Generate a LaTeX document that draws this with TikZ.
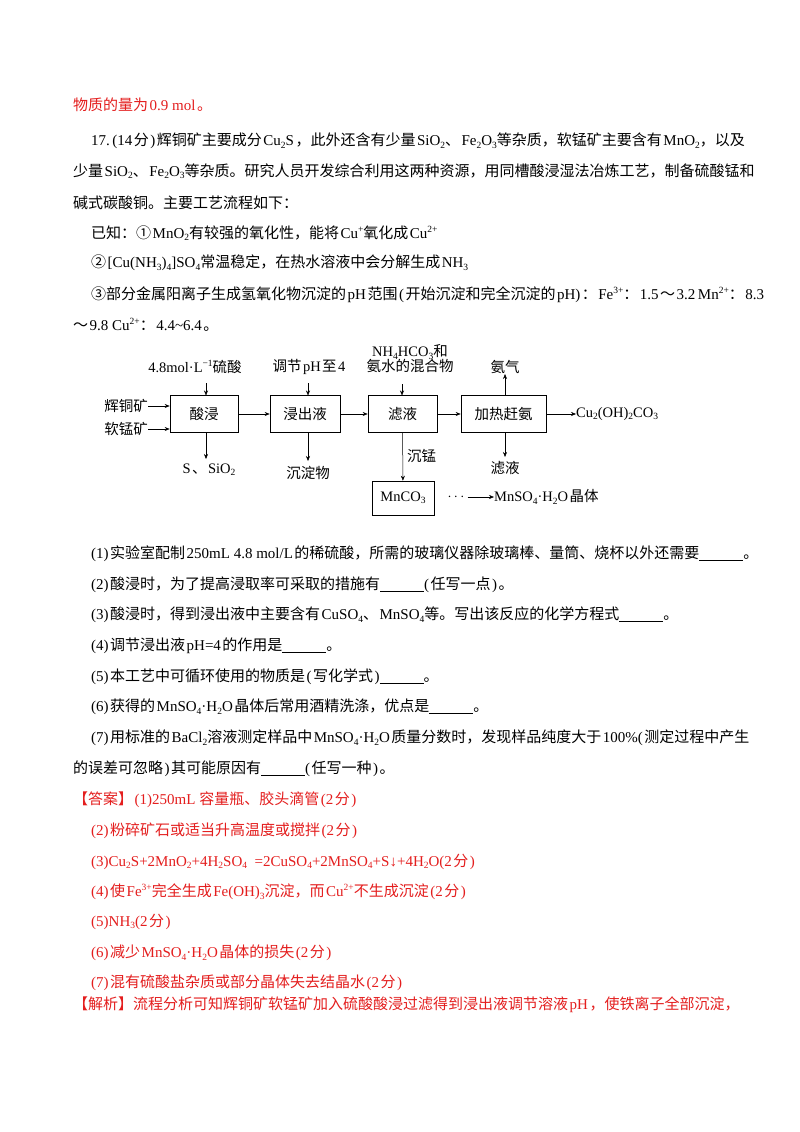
\documentclass[tikz,border=0pt]{standalone}
\usepackage{fontspec}
\usetikzlibrary{arrows.meta}
\setmainfont{Liberation Serif}
\newfontfamily\cjkfont{Noto Sans CJK SC}
\newcommand\latinfont{\rmfamily}
\XeTeXinterchartokenstate=1
\XeTeXlinebreaklocale "zh"
\XeTeXlinebreakskip=0pt plus 1fil
\newXeTeXintercharclass\cjkcls
\newcount\mycnt
\def\setcls#1#2{\mycnt=#1 \loop\XeTeXcharclass\mycnt=\cjkcls\advance\mycnt1 \ifnum\mycnt<#2\repeat}
\setcls{"2460}{"2474}\setcls{"3000}{"3040}\setcls{"4E00}{"A000}\setcls{"FF00}{"FFF0}
\XeTeXinterchartoks 0 \cjkcls={\hskip1.5pt\cjkfont}
\XeTeXinterchartoks 4095 \cjkcls={\cjkfont}
\XeTeXinterchartoks \cjkcls 0={\hskip1.5pt\latinfont}
\XeTeXinterchartoks 4095 0={\latinfont}
\newcommand\xs[1]{\raisebox{-0.35ex}{\fontsize{9.5}{9.5}\selectfont #1}}
\newcommand\xp[1]{\raisebox{0.85ex}{\fontsize{9.5}{9.5}\selectfont #1}}
\newcommand\blank{\underline{\hspace{44pt}}}
\newcommand\full[1]{\hbox to 637pt{#1}}
\newcommand\fullb[1]{\hbox to 655pt{#1}}
\definecolor{ans}{RGB}{228,30,30}
\begin{document}
\begin{tikzpicture}[x=1pt,y=-1pt,
  txt/.style={anchor=west,inner sep=0pt,font=\fontsize{15}{17}\selectfont},
  dtx/.style={inner sep=0pt,font=\fontsize{14.5}{16}\selectfont},
  box/.style={draw,line width=0.6pt,inner sep=0pt,font=\fontsize{14.5}{16}\selectfont},
  arr/.style={-{Stealth[length=5pt,width=4pt]},line width=0.5pt}]
\useasboundingbox[fill=white] (0,0) rectangle (800,1132);
% text
\node[txt,text=ans] (l0) at (73,105) {物质的量为0.9 mol。};
\node[txt] (l1) at (91,141) {\full{17.~(14分)辉铜矿主要成分Cu\xs{2}S，此外还含有少量SiO\xs{2}、Fe\xs{2}O\xs{3}等杂质，软锰矿主要含有MnO\xs{2}，以及}};
\node[txt] (l2) at (73,171) {\fullb{少量SiO\xs{2}、Fe\xs{2}O\xs{3}等杂质。研究人员开发综合利用这两种资源，用同槽酸浸湿法冶炼工艺，制备硫酸锰和}};
\node[txt] (l3) at (73,203) {碱式碳酸铜。主要工艺流程如下：};
\node[txt] (l4) at (91,233) {已知：①MnO\xs{2}有较强的氧化性，能将Cu\xp{+}氧化成Cu\xp{2+}};
\node[txt] (l5) at (91,263) {②[Cu(NH\xs{3})\xs{4}]SO\xs{4}常温稳定，在热水溶液中会分解生成NH\xs{3}};
\node[txt] (l6) at (91,295) {\full{③部分金属阳离子生成氢氧化物沉淀的pH范围(开始沉淀和完全沉淀的pH)：Fe\xp{3+}：1.5～3.2~Mn\xp{2+}：8.3}};
\node[txt] (l7) at (73,325) {～9.8 Cu\xp{2+}：4.4\textasciitilde6.4。};
\node[txt] (q1) at (91,554) {(1)实验室配制250mL 4.8 mol/L的稀硫酸，所需的玻璃仪器除玻璃棒、量筒、烧杯以外还需要\blank。};
\node[txt] (q2) at (91,585) {(2)酸浸时，为了提高浸取率可采取的措施有\blank(任写一点)。};
\node[txt] (q3) at (91,615) {(3)酸浸时，得到浸出液中主要含有CuSO\xs{4}、MnSO\xs{4}等。写出该反应的化学方程式\blank。};
\node[txt] (q4) at (91,646) {(4)调节浸出液pH=4的作用是\blank。};
\node[txt] (q5) at (91,677) {(5)本工艺中可循环使用的物质是(写化学式)\blank。};
\node[txt] (q6) at (91,707) {(6)获得的MnSO\xs{4}·H\xs{2}O晶体后常用酒精洗涤，优点是\blank。};
\node[txt] (q7) at (91,738) {\full{(7)用标准的BaCl\xs{2}溶液测定样品中MnSO\xs{4}·H\xs{2}O质量分数时，发现样品纯度大于100\%(测定过程中产生}};
\node[txt] (q7b) at (73,769) {的误差可忽略)其可能原因有\blank(任写一种)。};
\begin{scope}[every node/.append style={text=ans}]
\node[txt] (a0) at (73,800) {【答案】(1)250mL 容量瓶、胶头滴管(2分)};
\node[txt] (a2) at (91,831) {(2)粉碎矿石或适当升高温度或搅拌(2分)};
\node[txt] (a3) at (91,862) {(3)Cu\xs{2}S+2MnO\xs{2}+4H\xs{2}SO\xs{4}\ \ =2CuSO\xs{4}+2MnSO\xs{4}+S↓+4H\xs{2}O(2分)};
\node[txt] (a4) at (91,892) {(4)使Fe\xp{3+}完全生成Fe(OH)\xs{3}沉淀，而Cu\xp{2+}不生成沉淀(2分)};
\node[txt] (a5) at (91,922) {(5)NH\xs{3}(2分)};
\node[txt] (a6) at (91,953) {(6)减少MnSO\xs{4}·H\xs{2}O晶体的损失(2分)};
\node[txt] (a7) at (91,983) {(7)混有硫酸盐杂质或部分晶体失去结晶水(2分)};
\node[txt] (jx) at (73,1005) {\fullb{【解析】流程分析可知辉铜矿软锰矿加入硫酸酸浸过滤得到浸出液调节溶液pH，使铁离子全部沉淀，}};
\end{scope}
% diagram
\node[box,minimum width=68pt,minimum height=37pt] (b1) at (204,414) {酸浸};
\node[box,minimum width=70pt,minimum height=37pt] (b2) at (305,414) {浸出液};
\node[box,minimum width=69pt,minimum height=37pt] (b3) at (402.5,414) {滤液};
\node[box,minimum width=85pt,minimum height=37pt] (b4) at (503.5,414) {加热赶氨};
\node[box,minimum width=62pt,minimum height=34pt] (b5) at (403,498) {MnCO\xs{3}};
\node[dtx] (t1) at (195,367) {4.8mol·L\xp{−1}硫酸};
\node[dtx] (t2) at (309,367) {调节pH至4};
\node[dtx,align=center] (t3) at (410,359) {NH\xs{4}HCO\xs{3}和\\[-1pt]氨水的混合物};
\node[dtx] (t4) at (505,367) {氨气};
\node[dtx,anchor=east] (in1) at (148,406) {辉铜矿};
\node[dtx,anchor=east] (in2) at (148,429) {软锰矿};
\node[dtx,anchor=west] (out1) at (576,414) {Cu\xs{2}(OH)\xs{2}CO\xs{3}};
\node[dtx] (s1) at (209,470) {S、SiO\xs{2}};
\node[dtx] (s2) at (308,473) {沉淀物};
\node[dtx,anchor=west] (s3) at (407,456) {沉锰};
\node[dtx] (s4) at (505,468) {滤液};
\node[dtx] (dots) at (456,497) {$\cdots$};
\node[dtx,anchor=west] (mn) at (494,497) {MnSO\xs{4}·H\xs{2}O晶体};
\coordinate (c1) at (206,383);
\coordinate (c2) at (308,383);
\coordinate (c3) at (402,384);
\draw[arr] (c1) -- (206,395.5);
\draw[arr] (c2) -- (308,395.5);
\draw[arr] (c3) -- (402,395.5);
\draw[arr] (505,395.5) -- (505,374);
\draw[arr] (in1.east) -- (in1.east -| b1.west);
\draw[arr] (in2.east) -- (in2.east -| b1.west);
\draw[arr] (b1) -- (b2);
\draw[arr] (b2) -- (b3);
\draw[arr] (b3) -- (b4);
\draw[arr] (b4) -- (out1);
\draw[arr] (206,432.5) -- (206,459);
\draw[arr] (308,432.5) -- (308,461);
\draw[arr] (b3) -- (b5);
\draw[arr] (505,432.5) -- (505,457);
\draw[arr] (dots.east) ++(3,0) -- (mn.west);
\end{tikzpicture}
\end{document}
